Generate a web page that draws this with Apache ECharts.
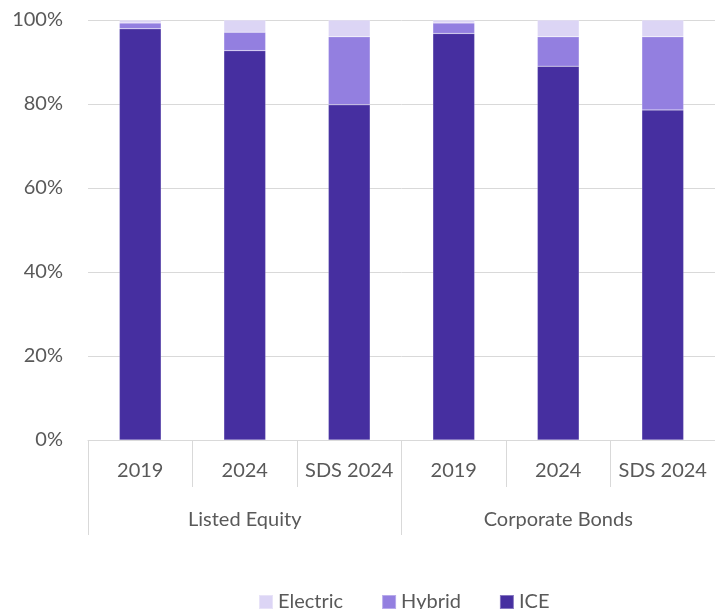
<!DOCTYPE html>
<html>
<head>
<meta charset="utf-8">
<script src="https://cdn.jsdelivr.net/npm/echarts@6/dist/echarts.min.js"></script>
<style>
  html, body { margin: 0; padding: 0; background: #fff; }
  #chart { width: 715px; height: 609px; }
</style>
</head>
<body>
<div id="chart"></div>
<script>
// categories
const groups = ["Listed Equity", "Corporate Bonds"];
const years = ["2019", "2024", "SDS 2024", "2019", "2024", "SDS 2024"];
// shares in %
const ice = [97.9, 92.7, 79.8, 96.8, 89.0, 78.6];
const hybrid = [1.4, 4.4, 16.2, 2.5, 7.0, 17.4];
const electric = [0.7, 2.9, 4.0, 0.7, 4.0, 4.0];
const yTicks = [0, 20, 40, 60, 80, 100];

const font = "Lato";
const textColor = "#595959";
const lineColor = "#d9d9d9";

const chart = echarts.init(document.getElementById('chart'), null, { renderer: 'canvas' });

function bar(name, data, color) {
  return {
    name: name,
    type: 'bar',
    stack: 'total',
    data: data,
    barWidth: '40%',
    itemStyle: { color: color, borderColor: 'rgba(255,255,255,0.35)', borderWidth: 0.5 }
  };
}

chart.setOption({
  animation: false,
  textStyle: { fontFamily: font },
  grid: { left: 88, top: 20, width: 633, height: 420 },
  legend: {
    top: 587,
    left: 253,
    itemWidth: 14,
    itemHeight: 14,
    itemGap: 38,
    icon: 'rect',
    data: ['Electric', 'Hybrid', 'ICE'],
    textStyle: { fontFamily: font, fontSize: 20, color: textColor }
  },
  xAxis: [
    {
      type: 'category',
      data: years,
      position: 'bottom',
      axisLine: { lineStyle: { color: lineColor } },
      axisTick: { show: true, interval: 0, length: 47, lineStyle: { color: lineColor } },
      axisLabel: { interval: 0, margin: 21, fontSize: 20, color: textColor, fontFamily: font }
    },
    {
      type: 'category',
      data: groups,
      position: 'bottom',
      offset: 47,
      axisLine: { show: false },
      axisTick: { show: true, interval: 0, length: 48, lineStyle: { color: lineColor } },
      axisLabel: { interval: 0, margin: 23, fontSize: 20, color: textColor, fontFamily: font }
    }
  ],
  yAxis: {
    type: 'value',
    min: yTicks[0],
    max: yTicks[yTicks.length - 1],
    interval: 20,
    axisLine: { show: false },
    axisTick: { show: false },
    splitLine: { lineStyle: { color: lineColor, width: 1 } },
    axisLabel: { formatter: '{value}%', margin: 25, fontSize: 20, color: textColor, fontFamily: font }
  },
  series: [
    bar('ICE', ice, '#462fa0'),
    bar('Hybrid', hybrid, '#937fe0'),
    bar('Electric', electric, '#dcd5f5')
  ]
});
</script>
</body>
</html>
